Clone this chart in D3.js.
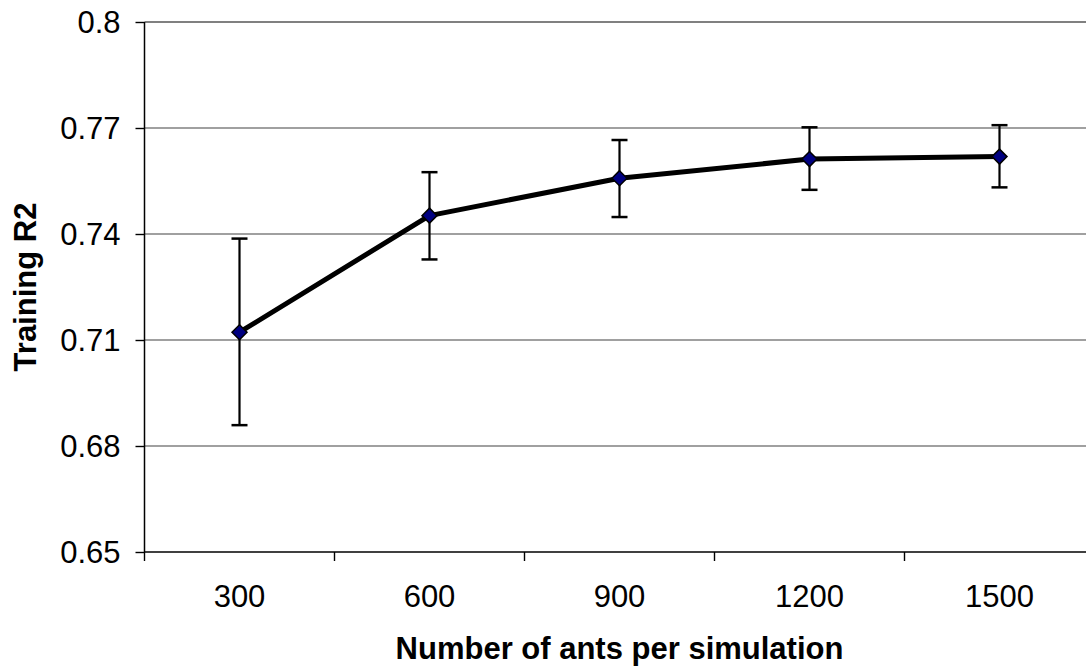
<!DOCTYPE html>
<html>
<head>
<meta charset="utf-8">
<script src="https://cdn.jsdelivr.net/npm/d3@7"></script>
<style>
  body { margin: 0; background: #fff; }
  svg { display: block; font-family: "Liberation Sans", Arial, sans-serif; }
</style>
</head>
<body>
<div id="chart"></div>
<script>
// data
const ants = ["300", "600", "900", "1200", "1500"];
const meanR2 = [0.7122, 0.7452, 0.7558, 0.7612, 0.7619];
const lowR2 = [0.6859, 0.7328, 0.7448, 0.7525, 0.7532];
const highR2 = [0.7387, 0.7575, 0.7666, 0.7702, 0.7708];
const yTicks = [0.65, 0.68, 0.71, 0.74, 0.77, 0.8];
const yTickLabels = ["0.65", "0.68", "0.71", "0.74", "0.77", "0.8"];

const W = 1086, H = 672;
const plotL = 144.5, plotR = 1094.5, plotT = 22, plotB = 552;

const svg = d3.select("#chart").append("svg")
  .attr("width", W)
  .attr("height", H);

const x = d3.scaleBand().domain(ants).range([plotL, plotR]).padding(0);
const y = d3.scaleLinear().domain([0.65, 0.8]).range([plotB, plotT]);

// gridlines
svg.append("g")
  .selectAll("line")
  .data(yTicks.slice(1))
  .enter()
  .append("line")
  .attr("x1", plotL)
  .attr("x2", plotR)
  .attr("y1", d => y(d))
  .attr("y2", d => y(d))
  .attr("stroke", "#808080")
  .attr("stroke-width", d => d === 0.8 ? 2 : 1.4);

// y axis
const yAxis = d3.axisLeft(y)
  .tickValues(yTicks)
  .tickSize(9)
  .tickPadding(15)
  .tickFormat((d, i) => yTickLabels[i]);
const gy = svg.append("g")
  .attr("transform", "translate(" + plotL + ",0)")
  .call(yAxis);
gy.select(".domain").attr("stroke", "#000").attr("stroke-width", 1.5)
  .attr("d", "M0," + plotT + "V" + plotB);
gy.selectAll(".tick line").attr("stroke", "#000").attr("stroke-width", 1.4);
gy.selectAll(".tick text")
  .attr("font-size", 31)
  .attr("font-family", "Liberation Sans, Arial, sans-serif")
  .attr("fill", "#000")
  .attr("dy", "0.35em");

// x axis: labels at band centres, ticks at band edges
const xAxis = d3.axisBottom(x).tickSize(0).tickPadding(33);
const gx = svg.append("g")
  .attr("transform", "translate(0," + plotB + ")")
  .call(xAxis);
gx.select(".domain").attr("stroke", "#000").attr("stroke-width", 1.5)
  .attr("d", "M" + plotL + ",0H" + plotR);
gx.selectAll(".tick text")
  .attr("font-size", 31)
  .attr("font-family", "Liberation Sans, Arial, sans-serif")
  .attr("fill", "#000")
  .attr("dy", "0.71em");

const edges = ants.map(d => x(d)).concat([plotR]);
gx.selectAll(".edge")
  .data(edges)
  .enter()
  .append("line")
  .attr("class", "edge")
  .attr("x1", d => d)
  .attr("x2", d => d)
  .attr("y1", 0)
  .attr("y2", 9)
  .attr("stroke", "#000")
  .attr("stroke-width", 1.4);

const cx = d => x(d) + x.bandwidth() / 2;

// error bars
const eb = svg.append("g").attr("stroke", "#000");
eb.selectAll(".stem")
  .data(ants)
  .enter()
  .append("line")
  .attr("x1", d => cx(d))
  .attr("x2", d => cx(d))
  .attr("y1", (d, i) => y(lowR2[i]))
  .attr("y2", (d, i) => y(highR2[i]))
  .attr("stroke-width", 2.2);
[lowR2, highR2].forEach(arr => {
  eb.selectAll(null)
    .data(ants)
    .enter()
    .append("line")
    .attr("x1", d => cx(d) - 8)
    .attr("x2", d => cx(d) + 8)
    .attr("y1", (d, i) => y(arr[i]))
    .attr("y2", (d, i) => y(arr[i]))
    .attr("stroke-width", 2.5);
});

// line
const line = d3.line()
  .x((d, i) => cx(ants[i]))
  .y(d => y(d));
svg.append("path")
  .datum(meanR2)
  .attr("d", line)
  .attr("fill", "none")
  .attr("stroke", "#000")
  .attr("stroke-width", 5)
  .attr("stroke-linejoin", "round");

// diamond markers
svg.append("g")
  .selectAll("path")
  .data(meanR2)
  .enter()
  .append("path")
  .attr("transform", (d, i) => "translate(" + cx(ants[i]) + "," + y(d) + ")")
  .attr("d", "M0,-7.5L7.5,0L0,7.5L-7.5,0Z")
  .attr("fill", "#000080")
  .attr("stroke", "#000")
  .attr("stroke-width", 1.5);

// axis titles
svg.append("text")
  .attr("x", (plotL + plotR) / 2)
  .attr("y", 659)
  .attr("text-anchor", "middle")
  .attr("font-size", 31)
  .attr("font-weight", "bold")
  .text("Number of ants per simulation");

svg.append("text")
  .attr("transform", "translate(36," + (plotT + plotB) / 2 + ") rotate(-90)")
  .attr("text-anchor", "middle")
  .attr("font-size", 31)
  .attr("font-weight", "bold")
  .text("Training R2");
</script>
</body>
</html>
